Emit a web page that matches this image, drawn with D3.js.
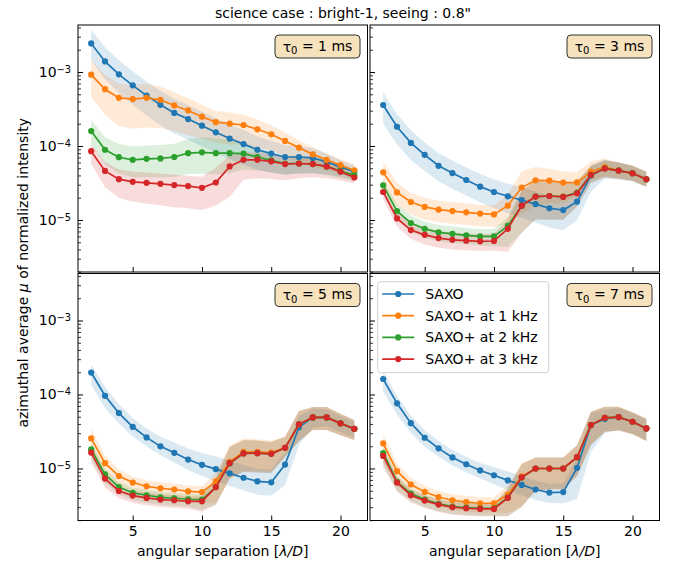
<!DOCTYPE html>
<html>
<head>
<meta charset="utf-8">
<script src="https://cdn.jsdelivr.net/npm/d3@7"></script>
<style>
  body { margin: 0; background: #fff; }
  svg { font-family: "DejaVu Sans", sans-serif; }
</style>
</head>
<body>
<svg></svg>
<script>
// x: angular separation [lambda/D], y: azimuthal average of normalized intensity (log)

const sep = [2, 3, 4, 5, 6, 7, 8, 9, 10, 11, 12, 13, 14, 15, 16, 17, 18, 19, 20, 21];
const seriesNames = ["SAXO", "SAXO+ at 1 kHz", "SAXO+ at 2 kHz", "SAXO+ at 3 kHz"];
const colors = ["#1f77b4", "#ff7f0e", "#2ca02c", "#d62728"];
const tauValues = ["1", "3", "5", "7"];

// mean curves, per panel: [SAXO, 1 kHz, 2 kHz, 3 kHz]
const mu_t1 = [
  [2.43e-3, 1.39e-3, 9.3e-4, 6.6e-4, 4.8e-4, 3.6e-4, 2.8e-4, 2.31e-4, 1.88e-4, 1.53e-4, 1.26e-4, 1.06e-4, 8.9e-5, 7.9e-5, 7.1e-5, 7.1e-5, 6.9e-5, 6.1e-5, 5.2e-5, 4.5e-5],
  [9.2e-4, 5.85e-4, 4.47e-4, 4.3e-4, 4.47e-4, 4.2e-4, 3.53e-4, 3.02e-4, 2.49e-4, 2.1e-4, 2.0e-4, 1.92e-4, 1.68e-4, 1.44e-4, 1.17e-4, 9.5e-5, 7.7e-5, 6.5e-5, 5.5e-5, 4.7e-5],
  [1.59e-4, 8.9e-5, 7.05e-5, 6.5e-5, 6.7e-5, 6.8e-5, 7.1e-5, 8.0e-5, 8.2e-5, 8.0e-5, 8.0e-5, 7.9e-5, 7.1e-5, 6.4e-5, 5.8e-5, 5.8e-5, 5.7e-5, 5.3e-5, 4.6e-5, 4.0e-5],
  [8.5e-5, 4.6e-5, 3.56e-5, 3.28e-5, 3.18e-5, 3.08e-5, 2.96e-5, 2.87e-5, 2.72e-5, 3.21e-5, 5.3e-5, 6.5e-5, 6.5e-5, 6.2e-5, 5.7e-5, 5.8e-5, 5.7e-5, 5.3e-5, 4.5e-5, 3.75e-5]
];
const mu_t3 = [
  [3.58e-4, 1.82e-4, 1.10e-4, 7.6e-5, 5.4e-5, 4.3e-5, 3.47e-5, 2.82e-5, 2.39e-5, 2.09e-5, 1.86e-5, 1.64e-5, 1.44e-5, 1.36e-5, 1.77e-5, 4.0e-5, 4.99e-5, 4.65e-5, 4.28e-5, 3.55e-5],
  [4.4e-5, 2.36e-5, 1.75e-5, 1.5e-5, 1.38e-5, 1.32e-5, 1.27e-5, 1.22e-5, 1.19e-5, 1.56e-5, 2.74e-5, 3.44e-5, 3.4e-5, 3.2e-5, 3.22e-5, 4.5e-5, 5.2e-5, 4.65e-5, 4.28e-5, 3.55e-5],
  [2.94e-5, 1.32e-5, 9.1e-6, 7.6e-6, 6.8e-6, 6.5e-6, 6.2e-6, 6.0e-6, 6.0e-6, 8.3e-6, 1.55e-5, 2.07e-5, 2.11e-5, 2.07e-5, 2.34e-5, 4.06e-5, 4.99e-5, 4.65e-5, 4.28e-5, 3.55e-5],
  [2.39e-5, 1.05e-5, 7.3e-6, 6.3e-6, 5.7e-6, 5.4e-6, 5.26e-6, 5.15e-6, 5.2e-6, 7.6e-6, 1.56e-5, 2.07e-5, 2.11e-5, 2.05e-5, 2.29e-5, 4.06e-5, 4.95e-5, 4.65e-5, 4.28e-5, 3.55e-5]
];
const mu_t5 = [
  [1.98e-4, 9.6e-5, 5.6e-5, 3.66e-5, 2.63e-5, 1.99e-5, 1.63e-5, 1.32e-5, 1.12e-5, 9.8e-6, 8.6e-6, 7.5e-6, 6.7e-6, 6.5e-6, 1.13e-5, 3.6e-5, 4.9e-5, 4.9e-5, 4.07e-5, 3.44e-5],
  [2.55e-5, 1.18e-5, 7.9e-6, 6.45e-6, 5.75e-6, 5.4e-6, 5.2e-6, 4.9e-6, 4.8e-6, 6.7e-6, 1.23e-5, 1.68e-5, 1.68e-5, 1.64e-5, 1.9e-5, 3.95e-5, 4.9e-5, 4.9e-5, 4.07e-5, 3.44e-5],
  [1.81e-5, 8.3e-6, 5.6e-6, 4.67e-6, 4.35e-6, 4.08e-6, 3.96e-6, 3.84e-6, 3.8e-6, 5.6e-6, 1.17e-5, 1.6e-5, 1.61e-5, 1.58e-5, 1.9e-5, 3.95e-5, 4.9e-5, 4.9e-5, 4.07e-5, 3.44e-5],
  [1.64e-5, 7.3e-6, 4.97e-6, 4.3e-6, 4.0e-6, 3.8e-6, 3.72e-6, 3.6e-6, 3.6e-6, 5.6e-6, 1.18e-5, 1.6e-5, 1.61e-5, 1.58e-5, 1.9e-5, 3.95e-5, 4.9e-5, 4.9e-5, 4.07e-5, 3.44e-5]
];
const mu_t7 = [
  [1.62e-4, 7.6e-5, 4.1e-5, 2.6e-5, 1.87e-5, 1.41e-5, 1.14e-5, 9.4e-6, 8.1e-6, 6.9e-6, 6.0e-6, 5.2e-6, 4.73e-6, 4.8e-6, 1.02e-5, 3.86e-5, 4.66e-5, 4.95e-5, 4.28e-5, 3.48e-5],
  [2.18e-5, 9.2e-6, 6.07e-6, 4.82e-6, 4.12e-6, 3.72e-6, 3.52e-6, 3.39e-6, 3.39e-6, 4.45e-6, 7.8e-6, 1.0e-5, 1.0e-5, 1.0e-5, 1.42e-5, 3.86e-5, 4.85e-5, 4.95e-5, 4.28e-5, 3.48e-5],
  [1.62e-5, 6.6e-6, 4.58e-6, 3.8e-6, 3.32e-6, 3.05e-6, 2.96e-6, 2.9e-6, 2.9e-6, 4.05e-6, 7.55e-6, 1.0e-5, 1.0e-5, 1.0e-5, 1.42e-5, 3.86e-5, 4.85e-5, 4.95e-5, 4.28e-5, 3.48e-5],
  [1.48e-5, 6.45e-6, 4.35e-6, 3.68e-6, 3.25e-6, 2.99e-6, 2.9e-6, 2.84e-6, 2.84e-6, 4.0e-6, 7.6e-6, 1.0e-5, 1.0e-5, 1.0e-5, 1.42e-5, 3.86e-5, 4.85e-5, 4.95e-5, 4.28e-5, 3.48e-5]
];

// shaded band edges, read as decades above (up) / below (dn) each curve
const up_t1 = [
  [0.19, 0.19, 0.19, 0.19, 0.19, 0.19, 0.19, 0.19, 0.19, 0.19, 0.19, 0.19, 0.18, 0.17, 0.16, 0.15, 0.13, 0.11, 0.09, 0.08],
  [0.2, 0.2, 0.19, 0.19, 0.19, 0.18, 0.18, 0.17, 0.16, 0.15, 0.15, 0.14, 0.13, 0.12, 0.11, 0.1, 0.1, 0.09, 0.08, 0.08],
  [0.15, 0.17, 0.18, 0.18, 0.18, 0.18, 0.18, 0.19, 0.2, 0.2, 0.17, 0.14, 0.12, 0.1, 0.1, 0.1, 0.1, 0.1, 0.09, 0.08],
  [0.1, 0.12, 0.13, 0.14, 0.14, 0.14, 0.14, 0.14, 0.15, 0.2, 0.15, 0.1, 0.1, 0.1, 0.1, 0.09, 0.09, 0.08, 0.08, 0.07]
];
const dn_t1 = [
  [0.22, 0.24, 0.25, 0.26, 0.27, 0.28, 0.28, 0.28, 0.28, 0.28, 0.28, 0.28, 0.27, 0.26, 0.24, 0.22, 0.2, 0.17, 0.13, 0.1],
  [0.3, 0.35, 0.38, 0.4, 0.4, 0.38, 0.35, 0.33, 0.3, 0.28, 0.28, 0.27, 0.25, 0.22, 0.2, 0.18, 0.16, 0.14, 0.12, 0.1],
  [0.17, 0.2, 0.22, 0.24, 0.25, 0.26, 0.27, 0.28, 0.29, 0.29, 0.27, 0.22, 0.18, 0.16, 0.15, 0.14, 0.13, 0.12, 0.1, 0.08],
  [0.17, 0.22, 0.25, 0.27, 0.28, 0.29, 0.3, 0.3, 0.3, 0.31, 0.41, 0.27, 0.25, 0.24, 0.22, 0.2, 0.18, 0.16, 0.12, 0.08]
];
const up_t3 = [
  [0.17, 0.17, 0.17, 0.17, 0.17, 0.17, 0.17, 0.17, 0.17, 0.17, 0.17, 0.17, 0.17, 0.17, 0.16, 0.14, 0.12, 0.11, 0.1, 0.1],
  [0.14, 0.13, 0.12, 0.12, 0.12, 0.12, 0.12, 0.12, 0.12, 0.15, 0.22, 0.18, 0.16, 0.15, 0.14, 0.14, 0.11, 0.11, 0.1, 0.1],
  [0.08, 0.09, 0.1, 0.1, 0.1, 0.1, 0.1, 0.1, 0.1, 0.12, 0.2, 0.22, 0.2, 0.18, 0.16, 0.12, 0.11, 0.11, 0.1, 0.1],
  [0.08, 0.09, 0.1, 0.1, 0.1, 0.1, 0.1, 0.1, 0.1, 0.12, 0.2, 0.22, 0.2, 0.18, 0.16, 0.12, 0.11, 0.11, 0.1, 0.1]
];
const dn_t3 = [
  [0.25, 0.24, 0.23, 0.22, 0.21, 0.21, 0.21, 0.21, 0.22, 0.23, 0.24, 0.25, 0.26, 0.27, 0.25, 0.22, 0.14, 0.12, 0.11, 0.1],
  [0.2, 0.18, 0.17, 0.17, 0.17, 0.17, 0.17, 0.17, 0.17, 0.25, 0.35, 0.35, 0.3, 0.28, 0.18, 0.12, 0.12, 0.11, 0.1, 0.1],
  [0.1, 0.11, 0.12, 0.12, 0.12, 0.12, 0.12, 0.12, 0.13, 0.28, 0.36, 0.31, 0.32, 0.31, 0.18, 0.11, 0.12, 0.11, 0.1, 0.1],
  [0.1, 0.11, 0.12, 0.13, 0.13, 0.13, 0.13, 0.13, 0.13, 0.31, 0.37, 0.31, 0.32, 0.31, 0.18, 0.11, 0.12, 0.11, 0.1, 0.1]
];
const up_t5 = [
  [0.11, 0.12, 0.12, 0.12, 0.12, 0.13, 0.14, 0.15, 0.16, 0.17, 0.17, 0.17, 0.17, 0.17, 0.17, 0.15, 0.12, 0.11, 0.1, 0.1],
  [0.13, 0.1, 0.09, 0.08, 0.08, 0.08, 0.08, 0.08, 0.08, 0.12, 0.22, 0.18, 0.17, 0.16, 0.15, 0.18, 0.14, 0.14, 0.13, 0.12],
  [0.1, 0.08, 0.07, 0.07, 0.07, 0.07, 0.07, 0.07, 0.07, 0.12, 0.22, 0.18, 0.17, 0.16, 0.15, 0.18, 0.14, 0.14, 0.13, 0.12],
  [0.1, 0.08, 0.07, 0.07, 0.07, 0.07, 0.07, 0.07, 0.07, 0.12, 0.22, 0.18, 0.17, 0.16, 0.15, 0.18, 0.14, 0.14, 0.13, 0.12]
];
const dn_t5 = [
  [0.17, 0.16, 0.14, 0.13, 0.12, 0.12, 0.13, 0.14, 0.15, 0.16, 0.17, 0.17, 0.18, 0.18, 0.28, 0.24, 0.14, 0.12, 0.12, 0.12],
  [0.18, 0.14, 0.12, 0.12, 0.12, 0.12, 0.12, 0.12, 0.14, 0.3, 0.24, 0.25, 0.26, 0.26, 0.12, 0.23, 0.17, 0.17, 0.16, 0.15],
  [0.13, 0.12, 0.1, 0.1, 0.1, 0.1, 0.1, 0.1, 0.14, 0.24, 0.2, 0.25, 0.26, 0.26, 0.12, 0.23, 0.17, 0.17, 0.16, 0.15],
  [0.13, 0.12, 0.1, 0.1, 0.1, 0.1, 0.1, 0.1, 0.14, 0.24, 0.2, 0.25, 0.26, 0.26, 0.12, 0.23, 0.17, 0.17, 0.16, 0.15]
];
const up_t7 = [
  [0.1, 0.1, 0.1, 0.1, 0.1, 0.1, 0.1, 0.1, 0.11, 0.12, 0.12, 0.12, 0.12, 0.12, 0.14, 0.16, 0.13, 0.12, 0.12, 0.12],
  [0.13, 0.1, 0.09, 0.08, 0.08, 0.08, 0.08, 0.08, 0.08, 0.12, 0.18, 0.15, 0.15, 0.15, 0.16, 0.18, 0.15, 0.14, 0.13, 0.13],
  [0.1, 0.08, 0.07, 0.07, 0.07, 0.07, 0.07, 0.07, 0.07, 0.12, 0.18, 0.15, 0.15, 0.15, 0.16, 0.18, 0.15, 0.14, 0.13, 0.13],
  [0.1, 0.08, 0.07, 0.07, 0.07, 0.07, 0.07, 0.07, 0.07, 0.12, 0.18, 0.15, 0.15, 0.15, 0.16, 0.18, 0.15, 0.14, 0.13, 0.13]
];
const dn_t7 = [
  [0.17, 0.15, 0.13, 0.12, 0.11, 0.11, 0.11, 0.11, 0.12, 0.13, 0.14, 0.14, 0.14, 0.15, 0.42, 0.36, 0.19, 0.17, 0.16, 0.16],
  [0.25, 0.2, 0.16, 0.14, 0.13, 0.13, 0.13, 0.13, 0.13, 0.25, 0.4, 0.3, 0.28, 0.28, 0.25, 0.27, 0.19, 0.18, 0.17, 0.17],
  [0.15, 0.12, 0.1, 0.1, 0.1, 0.1, 0.1, 0.1, 0.1, 0.25, 0.4, 0.3, 0.28, 0.28, 0.25, 0.27, 0.19, 0.18, 0.17, 0.17],
  [0.15, 0.12, 0.1, 0.1, 0.1, 0.1, 0.1, 0.1, 0.1, 0.25, 0.4, 0.3, 0.28, 0.28, 0.25, 0.27, 0.19, 0.18, 0.17, 0.17]
];

const width = 679;
const height = 565;
const panelW = 289.5;
const panelH = 247;
const panelX = [78, 370];
const panelY = [25, 273.5];
const fontSize = 14;

const panels = [
  { tau: tauValues[0], mu: mu_t1, up: up_t1, dn: dn_t1, col: 0, row: 0 },
  { tau: tauValues[1], mu: mu_t3, up: up_t3, dn: dn_t3, col: 1, row: 0 },
  { tau: tauValues[2], mu: mu_t5, up: up_t5, dn: dn_t5, col: 0, row: 1 },
  { tau: tauValues[3], mu: mu_t7, up: up_t7, dn: dn_t7, col: 1, row: 1 }
];

// Scales (shared)
const xScale = d3.scaleLinear()
    .domain([1.05, 21.95])
    .range([0, panelW]);

const yScale = d3.scaleLog()
    .domain([Math.pow(10, -5.703), Math.pow(10, -2.365)])
    .range([panelH, 0]);

const majorY = [1e-5, 1e-4, 1e-3];
const minorY = [];
[1e-6, 1e-5, 1e-4, 1e-3].forEach(dec => {
  for (let k = 2; k <= 9; k++) {
    const v = k * dec;
    if (v > yScale.domain()[0] && v < yScale.domain()[1]) minorY.push(v);
  }
});

const svg = d3.select("svg")
    .attr("width", width)
    .attr("height", height);

svg.append("rect")
    .attr("width", width)
    .attr("height", height)
    .attr("fill", "#fff");

panels.forEach((p, pi) => {
  const g = svg.append("g")
      .attr("transform", `translate(${panelX[p.col]}, ${panelY[p.row]})`);

  const clipId = "clip" + pi;
  g.append("clipPath").attr("id", clipId)
    .append("rect").attr("width", panelW).attr("height", panelH);

  const plot = g.append("g").attr("clip-path", `url(#${clipId})`);

  // bands
  p.mu.forEach((m, si) => {
    const area = d3.area()
        .x((d, i) => xScale(sep[i]))
        .y0((d, i) => yScale(d * Math.pow(10, -p.dn[si][i])))
        .y1((d, i) => yScale(d * Math.pow(10, p.up[si][i])));
    plot.append("path")
        .datum(m)
        .attr("d", area)
        .attr("fill", colors[si])
        .attr("fill-opacity", 0.16)
        .attr("stroke", "none");
  });

  // lines + markers
  p.mu.forEach((m, si) => {
    const line = d3.line()
        .x((d, i) => xScale(sep[i]))
        .y(d => yScale(d));
    plot.append("path")
        .datum(m)
        .attr("d", line)
        .attr("fill", "none")
        .attr("stroke", colors[si])
        .attr("stroke-width", 1.7);
    plot.append("g")
      .selectAll("circle")
      .data(m)
      .enter()
      .append("circle")
        .attr("cx", (d, i) => xScale(sep[i]))
        .attr("cy", d => yScale(d))
        .attr("r", 3.1)
        .attr("fill", colors[si]);
  });

  // Axes
  const xAxis = d3.axisBottom(xScale)
      .tickValues([5, 10, 15, 20])
      .tickSizeInner(-5)
      .tickSizeOuter(0)
      .tickPadding(6)
      .tickFormat(p.row === 1 ? d3.format("d") : () => "");

  const gx = g.append("g")
      .attr("transform", `translate(0, ${panelH})`)
      .call(xAxis);
  gx.select(".domain").remove();
  gx.selectAll("text").attr("font-size", fontSize).attr("font-family", "DejaVu Sans").attr("fill", "#000");
  gx.selectAll("line").attr("stroke", "#000").attr("stroke-width", 1);

  const yAxis = d3.axisLeft(yScale)
      .tickValues(majorY)
      .tickSizeInner(-5)
      .tickSizeOuter(0)
      .tickFormat(() => "");
  const gy = g.append("g").call(yAxis);
  gy.select(".domain").remove();
  gy.selectAll("line").attr("stroke", "#000").attr("stroke-width", 1);

  const yMinor = d3.axisLeft(yScale)
      .tickValues(minorY)
      .tickSizeInner(-3)
      .tickSizeOuter(0)
      .tickFormat(() => "");
  const gym = g.append("g").call(yMinor);
  gym.select(".domain").remove();
  gym.selectAll("line").attr("stroke", "#000").attr("stroke-width", 0.8);

  if (p.col === 0) {
    majorY.forEach(v => {
      const t = g.append("text")
          .attr("x", -7)
          .attr("y", yScale(v) + 5)
          .attr("text-anchor", "end")
          .attr("font-size", fontSize);
      t.append("tspan").text("10");
      t.append("tspan")
          .attr("dy", "-0.45em")
          .attr("font-size", fontSize * 0.7)
          .text("\u2212" + Math.round(-Math.log10(v)));
    });
  }

  // frame
  g.append("rect")
      .attr("width", panelW)
      .attr("height", panelH)
      .attr("fill", "none")
      .attr("stroke", "#000")
      .attr("stroke-width", 1);

  // tau box
  const bw = 85, bh = 23;
  const bx = panelW - 7.5 - bw, by = 10;
  g.append("rect")
      .attr("x", bx).attr("y", by)
      .attr("width", bw).attr("height", bh)
      .attr("rx", 4)
      .attr("fill", "#f6e2bd")
      .attr("stroke", "#333")
      .attr("stroke-width", 1);
  const tt = g.append("text")
      .attr("x", bx + bw / 2)
      .attr("y", by + bh / 2 + 5)
      .attr("text-anchor", "middle")
      .attr("font-size", 14);
  tt.append("tspan").text("\u03c4");
  tt.append("tspan").attr("dy", "0.25em").attr("font-size", 10).text("0");
  tt.append("tspan").attr("dy", "-0.25em").text(" = " + p.tau + " ms");

  // x label
  if (p.row === 1) {
    const xl = g.append("text")
        .attr("x", panelW / 2)
        .attr("y", panelH + 35)
        .attr("text-anchor", "middle")
        .attr("font-size", fontSize);
    xl.append("tspan").text("angular separation [");
    xl.append("tspan").attr("font-style", "italic").text("\u03bb/D");
    xl.append("tspan").text("]");
  }

  // legend
  if (pi === 3) {
    const lg = g.append("g").attr("transform", "translate(7.7, 8.2)");
    lg.append("rect")
        .attr("width", 171)
        .attr("height", 91)
        .attr("rx", 3)
        .attr("fill", "#fff")
        .attr("fill-opacity", 0.8)
        .attr("stroke", "#d0d0d0")
        .attr("stroke-width", 1);
    seriesNames.forEach((name, si) => {
      const yy = 12.3 + si * 21.7;
      lg.append("line")
          .attr("x1", 4.5).attr("x2", 36.5)
          .attr("y1", yy).attr("y2", yy)
          .attr("stroke", colors[si])
          .attr("stroke-width", 1.7);
      lg.append("circle")
          .attr("cx", 20.5).attr("cy", yy).attr("r", 3.1)
          .attr("fill", colors[si]);
      lg.append("text")
          .attr("x", 47.5)
          .attr("y", yy + 5)
          .attr("font-size", 14)
          .text(name);
    });
  }
});

// title
svg.append("text")
    .attr("x", 343)
    .attr("y", 18)
    .attr("text-anchor", "middle")
    .attr("font-size", 14)
    .text("science case : bright-1, seeing : 0.8\"");

// y label
const yl = svg.append("text")
    .attr("transform", `translate(28, ${(panelY[0] + panelY[1] + panelH) / 2}) rotate(-90)`)
    .attr("text-anchor", "middle")
    .attr("font-size", fontSize);
yl.append("tspan").text("azimuthal average ");
yl.append("tspan").attr("font-style", "italic").text("\u03bc");
yl.append("tspan").text(" of normalized intensity");
</script>
</body>
</html>
